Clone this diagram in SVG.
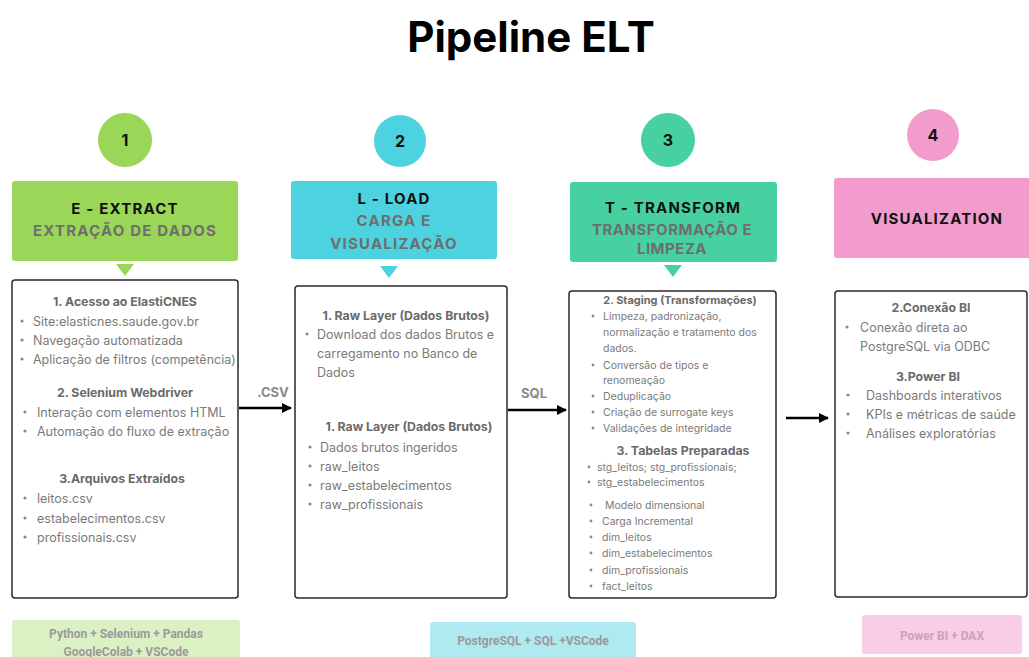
<svg xmlns="http://www.w3.org/2000/svg" width="1029" height="657" viewBox="0 0 1029 657">
<defs>
<marker id="ah" viewBox="0 0 10 10" refX="9" refY="5" markerWidth="4" markerHeight="4" orient="auto" markerUnits="strokeWidth">
<path d="M0,0 L10,5 L0,10 z" fill="#000"/>
</marker>
<style>
text{font-family:Inter,"Noto Sans","Liberation Sans",sans-serif}
.title{font-size:42px;font-weight:700;fill:#000;text-anchor:middle}
.num{font-size:16px;font-weight:700;fill:#111;text-anchor:middle}
.h1{font-size:15px;font-weight:700;fill:#111;text-anchor:middle;letter-spacing:1.2px}
.h2{font-size:15px;font-weight:700;fill:#6e6e6e;text-anchor:middle;letter-spacing:1.2px}
.box{fill:#fff;stroke:#2a2a2a;stroke-width:1.5}
.sec{font-size:12.3px;font-weight:700;fill:#6a6a6a;text-anchor:middle}
.it{font-size:12.5px;fill:#7a7a7a}
.sm{font-size:10.5px;fill:#7a7a7a}
.smh{font-size:11px;font-weight:700;fill:#6a6a6a;text-anchor:middle}
.dot{fill:#8a8a8a}
.lbl{font-size:13px;font-weight:700;fill:#8a8a8a;text-anchor:middle}
.tech{font-size:12px;font-weight:700;fill:#9a9a9a;text-anchor:middle;font-family:Roboto,"Liberation Sans",sans-serif}
.conn{stroke:#000;stroke-width:2.5;fill:none;marker-end:url(#ah)}
</style>
</defs>
<rect width="1029" height="657" fill="#fff"/>
<text class="title" x="531" y="52">Pipeline ELT</text>

<g id="step-extract">
<circle cx="125" cy="140" r="27" fill="#9ad658"/>
<text class="num" x="125" y="146">1</text>
<rect x="12" y="181" width="226" height="80" rx="3" fill="#9ad658"/>
<text class="h1" x="125" y="214">E - EXTRACT</text>
<text class="h2" x="125" y="236">EXTRAÇÃO DE DADOS</text>
<path d="M116,264 L134,264 L125,276 z" fill="#9ad658"/>
</g>

<g id="box-extract">
<rect class="box" x="12" y="280" width="226" height="318" rx="3"/>
<text class="sec" x="125" y="306">1. Acesso ao ElastiCNES</text>
<circle class="dot" cx="22" cy="321" r="1.6"/><text class="it" x="33" y="326">Site:elasticnes.saude.gov.br</text>
<circle class="dot" cx="22" cy="340" r="1.6"/><text class="it" x="33" y="345">Navegação automatizada</text>
<circle class="dot" cx="22" cy="359" r="1.6"/><text class="it" x="33" y="364">Aplicação de filtros (competência)</text>
<text class="sec" x="125" y="397">2. Selenium Webdriver</text>
<circle class="dot" cx="25" cy="412" r="1.6"/><text class="it" x="37" y="417">Interação com elementos HTML</text>
<circle class="dot" cx="25" cy="431" r="1.6"/><text class="it" x="37" y="436">Automação do fluxo de extração</text>
<text class="sec" x="122" y="483">3.Arquivos Extraídos</text>
<circle class="dot" cx="25" cy="498" r="1.6"/><text class="it" x="37" y="503">leitos.csv</text>
<circle class="dot" cx="25" cy="518" r="1.6"/><text class="it" x="37" y="523">estabelecimentos.csv</text>
<circle class="dot" cx="25" cy="537" r="1.6"/><text class="it" x="37" y="542">profissionais.csv</text>
</g>

<g id="step-load">
<circle cx="400" cy="141" r="26" fill="#4dd3e0"/>
<text class="num" x="400" y="147">2</text>
<rect x="291" y="181" width="206" height="78" rx="3" fill="#4dd3e0"/>
<text class="h1" x="394" y="204">L - LOAD</text>
<text class="h2" x="394" y="226">CARGA E</text>
<text class="h2" x="394" y="249">VISUALIZAÇÃO</text>
<path d="M380,266 L398,266 L389,278 z" fill="#4dd3e0"/>
</g>

<g id="box-load">
<rect class="box" x="295" y="286" width="212" height="312" rx="3"/>
<text class="sec" x="406" y="320">1. Raw Layer (Dados Brutos)</text>
<circle class="dot" cx="307" cy="334" r="1.6"/><text class="it" x="317" y="339">Download dos dados Brutos e</text>
<text class="it" x="317" y="358">carregamento no Banco de</text>
<text class="it" x="317" y="377">Dados</text>
<text class="sec" x="409" y="431">1. Raw Layer (Dados Brutos)</text>
<circle class="dot" cx="310" cy="447" r="1.6"/><text class="it" x="320" y="452">Dados brutos ingeridos</text>
<circle class="dot" cx="310" cy="466" r="1.6"/><text class="it" x="320" y="471">raw_leitos</text>
<circle class="dot" cx="310" cy="485" r="1.6"/><text class="it" x="320" y="490">raw_estabelecimentos</text>
<circle class="dot" cx="310" cy="504" r="1.6"/><text class="it" x="320" y="509">raw_profissionais</text>
</g>

<g id="step-transform">
<circle cx="668" cy="140" r="27" fill="#47d1a0"/>
<text class="num" x="668" y="146">3</text>
<rect x="570" y="182" width="207" height="80" rx="3" fill="#47d1a0"/>
<text class="h1" x="673" y="213">T - TRANSFORM</text>
<text class="h2" x="672" y="235" style="letter-spacing:0.5px">TRANSFORMAÇÃO E</text>
<text class="h2" x="672" y="254" style="letter-spacing:0.5px">LIMPEZA</text>
<path d="M664,265 L682,265 L673,277 z" fill="#47d1a0"/>
</g>

<g id="box-transform">
<rect class="box" x="569" y="291" width="207" height="307" rx="3"/>
<text class="smh" x="680" y="304">2. Staging (Transformações)</text>
<circle class="dot" cx="593" cy="316" r="1.4"/><text class="sm" x="603" y="320">Limpeza, padronização,</text>
<text class="sm" x="603" y="336">normalização e tratamento dos</text>
<text class="sm" x="603" y="352">dados.</text>
<circle class="dot" cx="593" cy="365" r="1.4"/><text class="sm" x="603" y="369">Conversão de tipos e</text>
<text class="sm" x="603" y="384">renomeação</text>
<circle class="dot" cx="593" cy="396" r="1.4"/><text class="sm" x="603" y="400">Deduplicação</text>
<circle class="dot" cx="593" cy="412" r="1.4"/><text class="sm" x="603" y="416">Criação de surrogate keys</text>
<circle class="dot" cx="593" cy="428" r="1.4"/><text class="sm" x="603" y="432">Validações de integridade</text>
<text class="sec" x="683" y="455">3. Tabelas Preparadas</text>
<circle class="dot" cx="589" cy="467" r="1.4"/><text class="sm" x="597" y="471">stg_leitos; stg_profissionais;</text>
<circle class="dot" cx="589" cy="482" r="1.4"/><text class="sm" x="597" y="486">stg_estabelecimentos</text>
<circle class="dot" cx="591" cy="505" r="1.4"/><text class="sm" x="605" y="509">Modelo dimensional</text>
<circle class="dot" cx="591" cy="521" r="1.4"/><text class="sm" x="602" y="525">Carga Incremental</text>
<circle class="dot" cx="591" cy="537" r="1.4"/><text class="sm" x="602" y="541">dim_leitos</text>
<circle class="dot" cx="591" cy="553" r="1.4"/><text class="sm" x="602" y="557">dim_estabelecimentos</text>
<circle class="dot" cx="591" cy="570" r="1.4"/><text class="sm" x="602" y="574">dim_profissionais</text>
<circle class="dot" cx="591" cy="586" r="1.4"/><text class="sm" x="602" y="590">fact_leitos</text>
</g>

<g id="step-visualization">
<circle cx="933" cy="135" r="26" fill="#f29bcd"/>
<text class="num" x="933" y="141">4</text>
<rect x="834" y="178" width="200" height="80" rx="3" fill="#f29bcd"/>
<text class="h1" x="937" y="224">VISUALIZATION</text>
</g>

<g id="box-visualization">
<rect class="box" x="835" y="291" width="192" height="306" rx="3"/>
<text class="sec" x="931" y="312">2.Conexão BI</text>
<circle class="dot" cx="847" cy="327" r="1.6"/><text class="it" x="860" y="332">Conexão direta ao</text>
<text class="it" x="860" y="351">PostgreSQL via ODBC</text>
<text class="sec" x="928" y="381">3.Power BI</text>
<circle class="dot" cx="848" cy="395" r="1.6"/><text class="it" x="866" y="400">Dashboards interativos</text>
<circle class="dot" cx="848" cy="414" r="1.6"/><text class="it" x="866" y="419">KPIs e métricas de saúde</text>
<circle class="dot" cx="848" cy="433" r="1.6"/><text class="it" x="866" y="438">Análises exploratórias</text>
</g>

<g id="connectors">
<line class="conn" x1="239" y1="408" x2="291" y2="408"/>
<text class="lbl" x="273" y="397">.CSV</text>
<line class="conn" x1="508" y1="410" x2="566" y2="410"/>
<text class="lbl" x="534" y="398">SQL</text>
<line class="conn" x1="786" y1="418" x2="828" y2="418"/>
</g>

<g id="tech-extract">
<rect x="12" y="620" width="228" height="40" rx="3" fill="#dcf1c3"/>
<text class="tech" x="126" y="638">Python + Selenium + Pandas</text>
<text class="tech" x="126" y="656">GoogleColab + VSCode</text>
</g>
<g id="tech-load">
<rect x="430" y="622" width="206" height="38" rx="3" fill="#aeeaf0"/>
<text class="tech" x="533" y="645">PostgreSQL + SQL +VSCode</text>
</g>
<g id="tech-visualization">
<rect x="862" y="615" width="160" height="39" rx="3" fill="#f9cde5"/>
<text class="tech" x="942" y="640" style="fill:#c9a3b8">Power BI + DAX</text>
</g>
</svg>
